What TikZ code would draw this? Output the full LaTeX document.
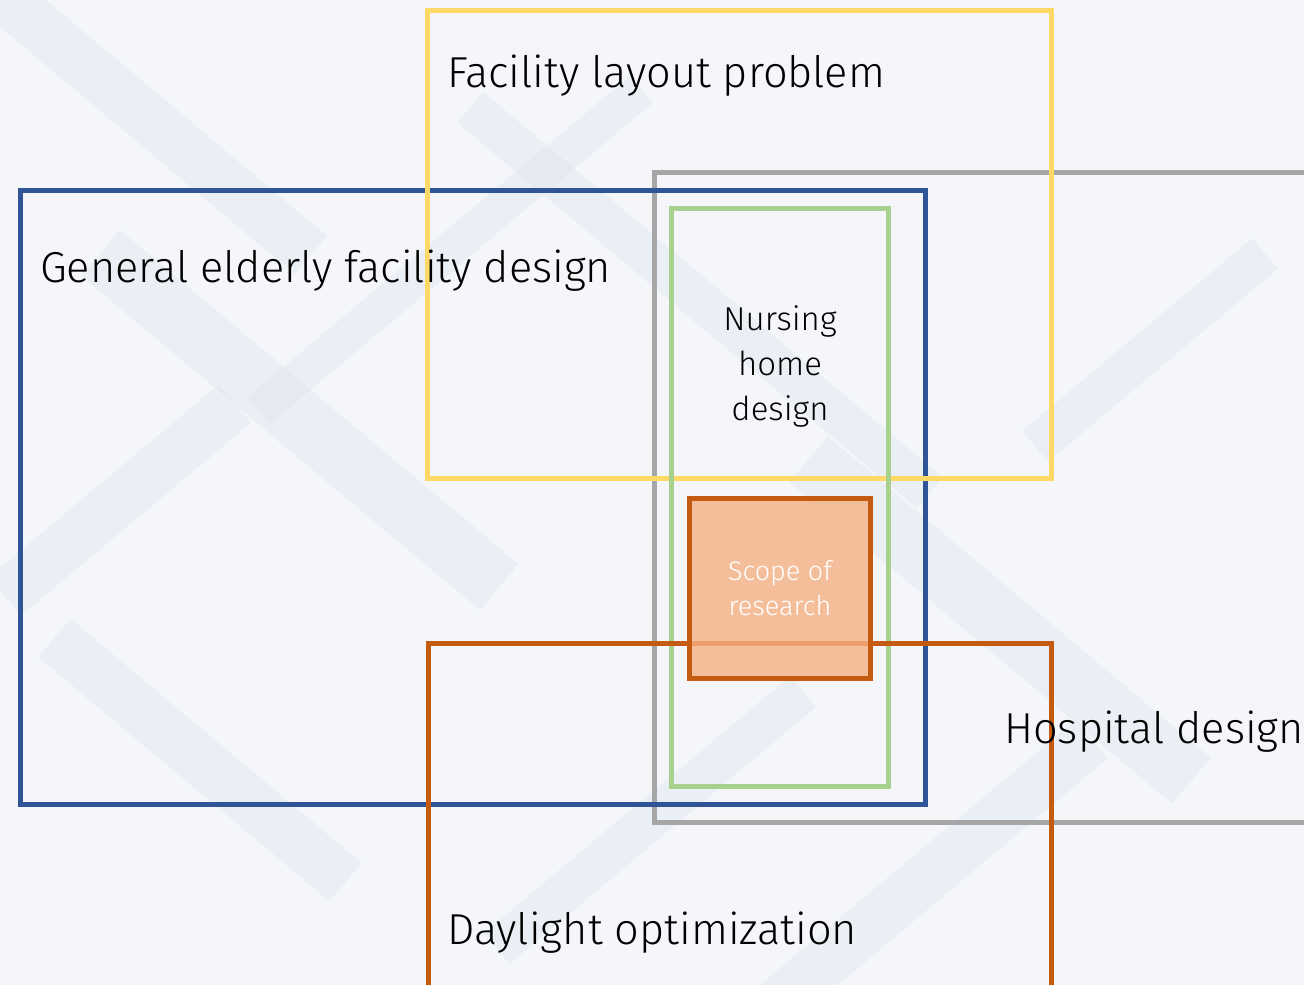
\documentclass[tikz,border=0pt]{standalone}
\usepackage{fontspec}
\setmainfont{Fira Sans Light}
\begin{document}
\begin{tikzpicture}[x=1pt,y=-1pt,
  frame/.style={line width=5pt},
  lbl/.style={inner sep=0pt,anchor=base west,font=\fontsize{43.3}{50}\selectfont},
  small/.style={inner sep=0pt,align=center,font=\fontsize{33}{45}\selectfont},
  tiny/.style={inner sep=0pt,align=center,text=white,font=\fontsize{27}{35}\selectfont}]
\definecolor{bgbase}{HTML}{F4F6FA}
\definecolor{bgband}{HTML}{DCE3EF}
\definecolor{cyellow}{HTML}{FFD966}
\definecolor{cblue}{HTML}{2F5597}
\definecolor{cgrey}{HTML}{A6A6A6}
\definecolor{cgreen}{HTML}{A9D18E}
\definecolor{corange}{HTML}{C55A11}
\definecolor{cpeach}{HTML}{F4B183}
% faded backdrop
\fill[bgbase] (0,0) rectangle (1304,985);
\useasboundingbox (0,0) rectangle (1304,985);
\begin{scope}
\clip (0,0) rectangle (1304,985);
\foreach \x/\y/\r/\w/\h in {150/120/-40/420/50, 300/420/-40/520/60, 700/300/-40/600/40,
  1000/620/-40/500/60, 200/760/-40/380/50, 900/900/40/500/50, 1150/350/40/300/40,
  450/250/40/500/35, 120/500/40/300/50, 650/820/40/400/40}
  \fill[bgband,opacity=0.38,rotate around={\r:(\x,\y)}] (\x-\w/2,\y-\h/2) rectangle (\x+\w/2,\y+\h/2);
\end{scope}
% overlapping research areas
\draw[frame,cgrey] (654,172) rectangle (1320,822);
\draw[frame,cblue] (20,190) rectangle (925,804);
\draw[frame,cyellow] (427,10) rectangle (1051,478);
\draw[frame,cgreen] (671,208) rectangle (888,786);
\draw[frame,corange] (428,643) rectangle (1051,1000);
\draw[frame,corange,fill=cpeach,fill opacity=0.8] (689,498) rectangle (870,678);
% labels
\node[lbl] (flp) at (447,87) {Facility layout problem};
\node[lbl] (gefd) at (40,282) {General elderly facility design};
\node[lbl] (hd) at (1004,743) {Hospital design};
\node[lbl] (dlo) at (447,944) {Daylight optimization};
\node[small] (nhd) at (780,366) {Nursing\\home\\design};
\node[tiny] (sor) at (780,588) {Scope of\\research};
\end{tikzpicture}
\end{document}
